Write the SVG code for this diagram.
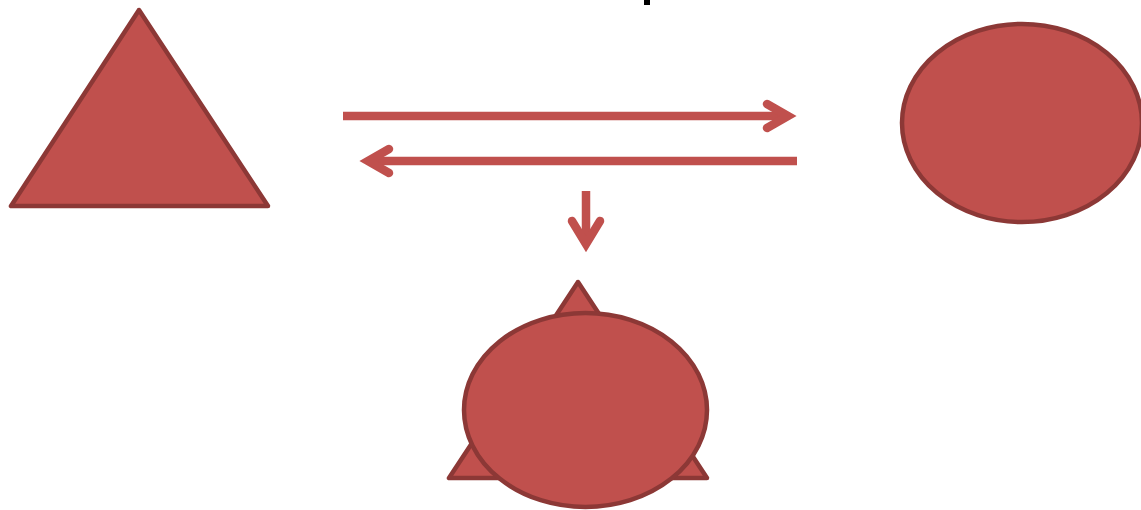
<svg xmlns="http://www.w3.org/2000/svg" width="1141" height="510" viewBox="0 0 1141 510">
<style>
.shape{fill:#C0504D;stroke:#8C3836;stroke-width:4.5;stroke-linejoin:round}
.conn{fill:none;stroke:#C0504D;stroke-width:8.5}
.head{fill:none;stroke:#C0504D;stroke-width:8.5;stroke-linecap:round;stroke-linejoin:miter;stroke-miterlimit:10}
</style>
<rect x="644" y="0" width="6" height="5" fill="#000"/>
<g id="node-triangle">
<polygon class="shape" points="139,10 11,206 268,206"/>
</g>
<g id="node-ellipse">
<ellipse class="shape" cx="1022" cy="123" rx="120" ry="99"/>
</g>
<g id="node-combined">
<polygon class="shape" points="578,282 449,478 707,478"/>
<ellipse class="shape" cx="585.5" cy="410" rx="121.5" ry="97"/>
</g>
<g id="connectors">
<line class="conn" x1="343" y1="116" x2="786" y2="116"/>
<path class="head" d="M767,104 L788,116 L767,128"/>
<line class="conn" x1="797" y1="161" x2="370" y2="161"/>
<path class="head" d="M389,149 L368,161 L389,173"/>
<line class="conn" x1="586" y1="191" x2="586" y2="242"/>
<path class="head" d="M572,221 L586,244 L600,221"/>
</g>
</svg>
